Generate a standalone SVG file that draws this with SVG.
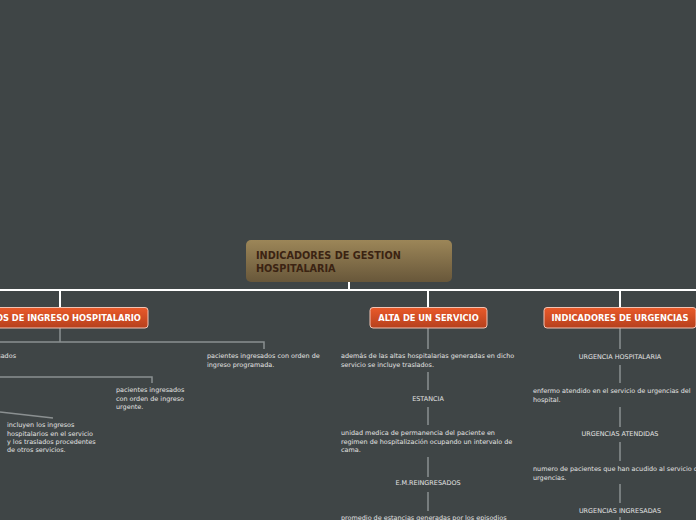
<svg xmlns="http://www.w3.org/2000/svg" width="696" height="520" viewBox="0 0 696 520">
<defs>
<linearGradient id="gRoot" x1="0" y1="0" x2="0" y2="1"><stop offset="0" stop-color="#9c8658"/><stop offset="1" stop-color="#68573a"/></linearGradient>
<linearGradient id="gNode" x1="0" y1="0" x2="0" y2="1"><stop offset="0" stop-color="#ea5a2a"/><stop offset="1" stop-color="#b6401d"/></linearGradient>
</defs>
<style>
.main{stroke:#ffffff;stroke-width:2;fill:none}
.sub{stroke:#8b9091;stroke-width:1.5;fill:none}
.box{fill:url(#gNode);stroke:#f2c4b4;stroke-width:1}
.bt{font-family:"DejaVu Sans",Verdana,sans-serif;font-weight:bold;font-size:8.3px;fill:#ffffff;text-anchor:middle}
.t{font-family:"DejaVu Sans",Verdana,sans-serif;font-size:6.45px;fill:#e2e2e2}
.c{text-anchor:middle}
.rt{font-family:"DejaVu Sans",Verdana,sans-serif;font-weight:bold;font-size:9.7px;fill:#3b2312}
</style>
<rect width="696" height="520" fill="#3f4546"/>
<g id="connectors">
<path class="main" d="M349 282V290M0 290H696M60 290V307M428 290V307M620 290V307"/>
<path class="sub" d="M60 328V342M0 342H264V349M0 377H152V383M0 412L53 418"/>
<path class="sub" d="M428 328V349M428 372V390M428 407V425M428 457V477M428 492V511"/>
<path class="sub" d="M620 328V349M620 365V383M620 407V427M620 442V461M620 484V503M620 517V520"/>
</g>
<g id="root">
<rect x="246" y="240" width="206" height="42" rx="5" fill="url(#gRoot)"/>
<text class="rt" x="256" y="258.8">INDICADORES DE GESTION</text>
<text class="rt" x="256" y="271.8">HOSPITALARIA</text>
</g>
<g id="n-tipos">
<rect class="box" x="-32" y="307.5" width="180" height="20.5" rx="3"/>
<text class="bt" x="61" y="320.8">TIPOS DE INGRESO HOSPITALARIO</text>
</g>
<g id="n-alta">
<rect class="box" x="370" y="307.5" width="117" height="20.5" rx="3"/>
<text class="bt" x="428.5" y="320.8">ALTA DE UN SERVICIO</text>
</g>
<g id="n-urg">
<rect class="box" x="544" y="307.5" width="152" height="20.5" rx="3"/>
<text class="bt" x="620" y="320.8">INDICADORES DE URGENCIAS</text>
</g>
<g id="t-ingresados"><text class="t" x="16" y="358.3" text-anchor="end">ingresados</text></g>
<g id="t-programada"><text class="t" x="207" y="358.3">pacientes ingresados con orden de</text><text class="t" x="207" y="366.5">ingreso programada.</text></g>
<g id="t-urgente"><text class="t" x="116" y="392.3">pacientes ingresados</text><text class="t" x="116" y="400.5">con orden de ingreso</text><text class="t" x="116" y="408.7">urgente.</text></g>
<g id="t-incluyen"><text class="t" x="7" y="427.3">incluyen los ingresos</text><text class="t" x="7" y="435.5">hospitalarios en el servicio</text><text class="t" x="7" y="443.7">y los traslados procedentes</text><text class="t" x="7" y="451.9">de otros servicios.</text></g>
<g id="t-ademas"><text class="t" x="341" y="358.3">además de las altas hospitalarias generadas en dicho</text><text class="t" x="341" y="366.5">servicio se incluye traslados.</text></g>
<g id="t-estancia"><text class="t c" x="428" y="401.3">ESTANCIA</text></g>
<g id="t-unidad"><text class="t" x="341" y="435.3">unidad medica de permanencia del paciente en</text><text class="t" x="341" y="443.5">regimen de hospitalización ocupando un intervalo de</text><text class="t" x="341" y="451.7">cama.</text></g>
<g id="t-emre"><text class="t c" x="428" y="485.3">E.M.REINGRESADOS</text></g>
<g id="t-promedio"><text class="t" x="341" y="520.3">promedio de estancias generadas por los episodios</text></g>
<g id="t-urghosp"><text class="t c" x="620" y="359.3">URGENCIA HOSPITALARIA</text></g>
<g id="t-enfermo"><text class="t" x="533" y="393.3">enfermo atendido en el servicio de urgencias del</text><text class="t" x="533" y="401.5">hospital.</text></g>
<g id="t-atendidas"><text class="t c" x="620" y="436.3">URGENCIAS ATENDIDAS</text></g>
<g id="t-numero"><text class="t" x="533" y="471.3">numero de pacientes que han acudido al servicio de</text><text class="t" x="533" y="479.5">urgencias.</text></g>
<g id="t-ingresadas"><text class="t c" x="620" y="513.3">URGENCIAS INGRESADAS</text></g>
</svg>
